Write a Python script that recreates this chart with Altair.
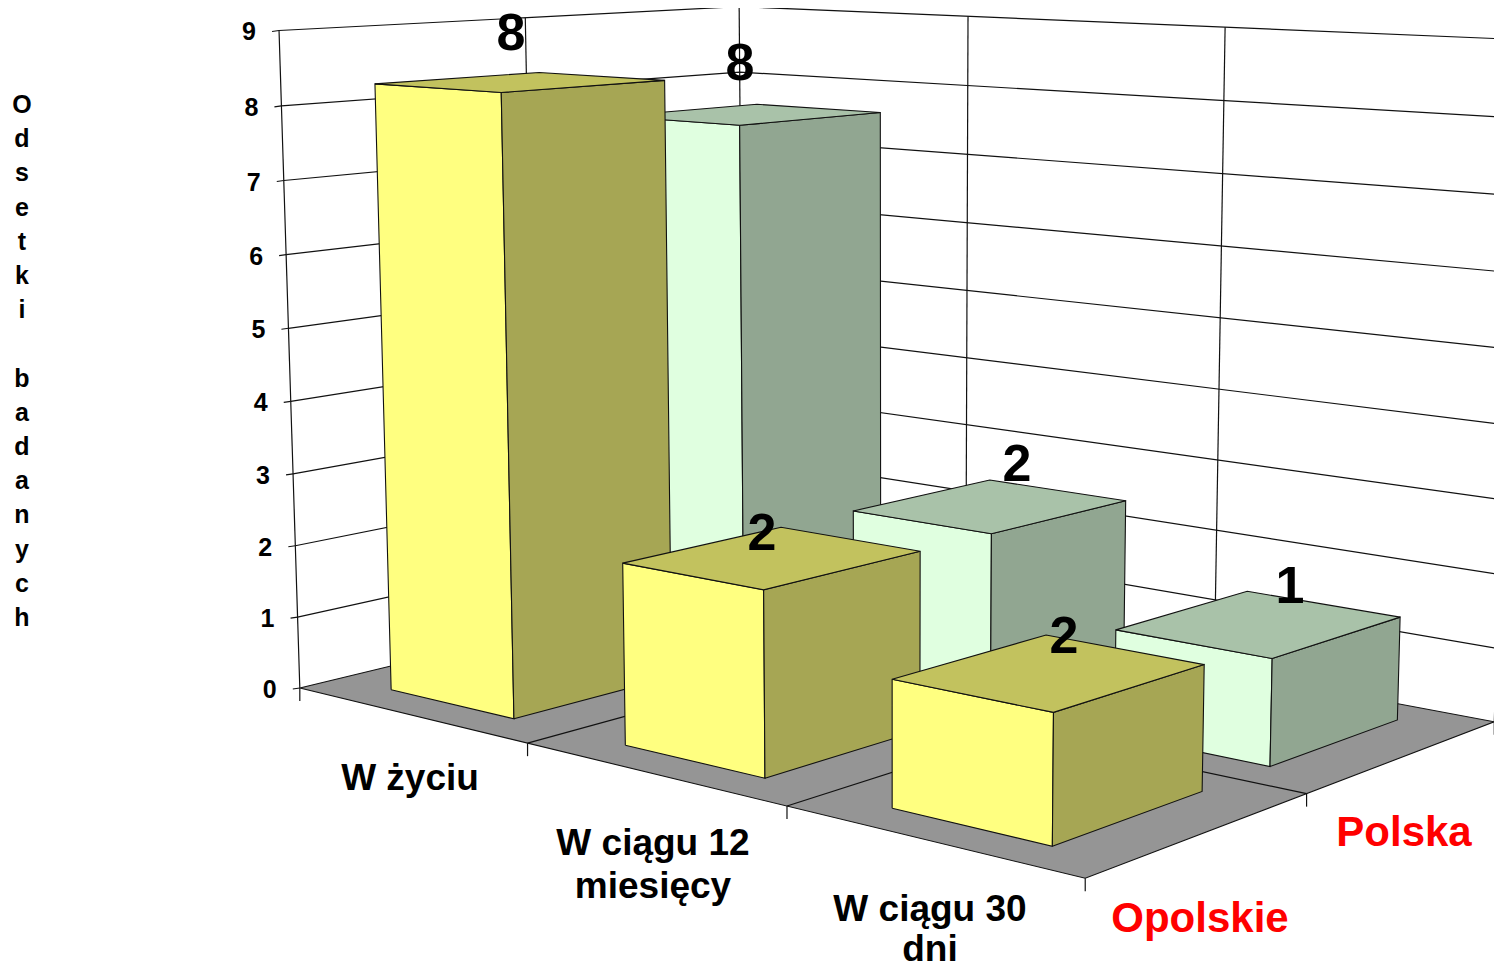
import altair as alt
import numpy as np
import pandas as pd

# ---- values
categories = ["W życiu", "W ciągu 12\nmiesięcy", "W ciągu 30\ndni"]
series = ["Opolskie", "Polska"]
opolskie = [8.3, 2.4, 1.6]
polska = [7.6, 2.4, 1.4]
z_ticks = list(range(10))
y_title = "Odsetki badanych"

# ---- camera: view of the (category, series, value) box
P = np.array([
    [-0.2364964100941339, -0.3343406228902837, 0.0040574456731675, -0.3626656297884959],
    [-0.011827908190604891, 0.013378608456892092, 0.08851093686618629, -0.8322189765518148],
    [7.389550145497914e-05, -8.852301848215338e-05, 4.5310418983202094e-06, -0.0012096408387207852],
])
def pr(X, Y, Z):
    h = P @ np.array([X, Y, Z, 1.0])
    return float(h[0] / h[2]), float(h[1] / h[2])

W, H = 1486, 961
xs = alt.X("x:Q", scale=alt.Scale(domain=[8, 8 + W], range=[0, W]), axis=None)
ys = alt.Y("y:Q", scale=alt.Scale(domain=[8 + H, 8], range=[H, 0]), axis=None)

GAP_X, GAP_Y = 0.23, 0.165
FACE = {"Opolskie": ("#FFFF80", "#A6A654", "#C2C25E"), "Polska": ("#E0FFE0", "#91A691", "#A9C2A9")}
EDGE = "#111111"
FONT = "Liberation Sans"
TEXT_DY = 2

polys, lines = [], []
gid = [0]
def add_poly(pts, fill):
    gid[0] += 1
    for k, p in enumerate(list(pts) + [pts[0]]):
        polys.append(dict(g=gid[0], k=k, x=p[0], y=p[1], fill=fill))
def add_line(pts):
    gid[0] += 1
    for k, p in enumerate(pts):
        lines.append(dict(g=gid[0], k=k, x=p[0], y=p[1]))

# walls
for z in z_ticks[1:]:
    add_line([pr(0, 0, z), pr(0, 2, z), pr(3, 2, z)])
    p = pr(0, 0, z)
    add_line([(p[0] - 7, p[1] + 1), p])
for y_ in (0, 1, 2):
    add_line([pr(0, y_, 0), pr(0, y_, 9)])
for x_ in (1, 2, 3):
    add_line([pr(x_, 2, 0), pr(x_, 2, 9)])
walls = pd.DataFrame(lines)
lines = []

# floor
add_poly([pr(0, 0, 0), pr(3, 0, 0), pr(3, 2, 0), pr(0, 2, 0)], "#959595")
for x_ in (1, 2):
    add_line([pr(x_, 0, 0), pr(x_, 2, 0)])
add_line([pr(0, 1, 0), pr(3, 1, 0)])
for x_ in (0, 1, 2, 3):
    a = pr(x_, 0, 0)
    add_line([a, (a[0], a[1] + 13)])
a = pr(3, 1, 0); add_line([a, (a[0], a[1] + 13)])
a = pr(3, 2, 0); add_line([a, (a[0], a[1] + 13)])
a = pr(0, 0, 0); add_line([(a[0] - 7, a[1] + 1), a])
floor_poly = pd.DataFrame(polys)
floor_lines = pd.DataFrame(lines)
polys = []

# bars, far row first, left to right
for row, (name, vals) in sorted(enumerate(zip(series, [opolskie, polska])), reverse=True):
    front, side, top = FACE[name]
    for c, v in enumerate(vals):
        x0, x1 = c + GAP_X, c + 1 - GAP_X
        y0, y1 = row + GAP_Y, row + 1 - GAP_Y
        add_poly([pr(x0, y0, 0), pr(x1, y0, 0), pr(x1, y0, v), pr(x0, y0, v)], front)
        add_poly([pr(x1, y0, 0), pr(x1, y1, 0), pr(x1, y1, v), pr(x1, y0, v)], side)
        add_poly([pr(x0, y0, v), pr(x1, y0, v), pr(x1, y1, v), pr(x0, y1, v)], top)
bars = pd.DataFrame(polys)

def line_layer(df, width=1.2):
    return alt.Chart(df).mark_line(color=EDGE, strokeWidth=width, strokeJoin="miter").encode(
        x=xs, y=ys, detail="g:N", order="k:Q")

def poly_layer(df):
    return alt.Chart(df).mark_line(stroke=EDGE, strokeWidth=1.1, strokeJoin="miter").encode(
        x=xs, y=ys, detail="g:N", order="k:Q", fill=alt.Fill("fill:N", scale=None, legend=None))

def text_layer(df, size, color="black", dy=TEXT_DY):
    return alt.Chart(df).mark_text(font=FONT, fontWeight="bold", fontSize=size, color=color, dy=dy,
                                   align="center", baseline="middle").encode(x=xs, y=ys, text="t:N")

# texts
tick_pos = [pr(0, 0, z) for z in z_ticks]
tick_df = pd.DataFrame(dict(x=[p[0] - 30 for p in tick_pos], y=[p[1] for p in tick_pos], t=[str(z) for z in z_ticks]))

cat_anchor = [(410, 777, 0), (653, 842, 43), (930, 908, 40)]
cat_rows = []
for name, (ax, ay, step) in zip(categories, cat_anchor):
    for i, part in enumerate(name.split("\n")):
        cat_rows.append(dict(x=ax, y=ay + i * step, t=part))
cat_df = pd.DataFrame(cat_rows)

ser_df = pd.DataFrame(dict(x=[1200, 1404], y=[917, 831], t=series))

label_anchor = [(511, 32), (762, 532), (1064, 635), (740, 62), (1017, 463), (1290, 585)]
label_vals = opolskie + polska
lab_df = pd.DataFrame(dict(x=[a[0] for a in label_anchor], y=[a[1] for a in label_anchor],
                           t=[f"{v:.0f}" for v in label_vals]))

title_df = pd.DataFrame(dict(x=[22] * len(y_title), y=[104 + 34.2 * i for i in range(len(y_title))], t=list(y_title)))
title_df = title_df[title_df.t != " "]

chart = alt.layer(
    line_layer(walls),
    poly_layer(floor_poly),
    line_layer(floor_lines),
    poly_layer(bars),
    text_layer(tick_df, 25),
    text_layer(cat_df, 37),
    text_layer(ser_df, 42, color="#FF0000"),
    text_layer(lab_df, 52),
    text_layer(title_df, 25, dy=1),
).properties(width=W, height=H, autosize=alt.AutoSizeParams(type="none"), padding=0, background="white"
).configure_view(stroke=None)

chart.save("out.html", embed_options={"renderer": "svg", "actions": False})
